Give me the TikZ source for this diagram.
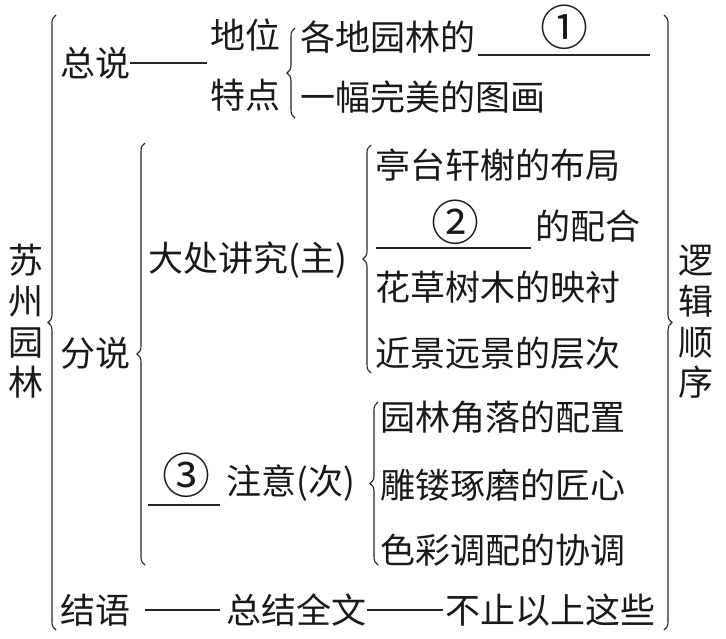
\documentclass[tikz,border=0pt]{standalone}
\usepackage{fontspec}
\newfontfamily\cjk{Noto Sans CJK SC}
\usetikzlibrary{decorations.pathreplacing}
\tikzset{
  txt/.style={inner sep=0pt, anchor=west, text height=30.8pt, text depth=4.2pt, font=\cjk\fontsize{35}{41}\selectfont, text=black!90},
  ctxt/.style={txt, anchor=center},
  circ/.style={inner sep=0pt, anchor=center, text height=42.2pt, text depth=5.8pt, font=\cjk\fontsize{48}{50}\selectfont, text=black!90},
  ln/.style={line width=1.1pt, black!85},
  brc/.style={line width=1.1pt, black!85, decorate, decoration={brace, amplitude=8pt}}
}
\begin{document}
\begin{tikzpicture}[x=1pt,y=-1pt]
\useasboundingbox (0,0) rectangle (726,638);
% vertical titles
\node[ctxt] (s1) at (26,260) {苏};
\node[ctxt] (s2) at (26,301) {州};
\node[ctxt] (s3) at (26,342) {园};
\node[ctxt] (s4) at (26,382) {林};
\node[ctxt] (l1) at (696,260) {逻};
\node[ctxt] (l2) at (696,301) {辑};
\node[ctxt] (l3) at (696,342) {顺};
\node[ctxt] (l4) at (696,382) {序};
% outer braces
\coordinate (ob1) at (56,630); \coordinate (ob2) at (56,15);
\draw[brc] (ob1) -- (ob2);
\coordinate (rb1) at (664,15); \coordinate (rb2) at (664,630);
\draw[brc] (rb1) -- (rb2);
% 总说
\node[txt] (zs) at (60,63) {总说};
\coordinate (zsend) at (207,63);
\draw[ln] (zs.east) -- (zsend);
\node[txt] (dw) at (210,35) {地位};
\node[txt] (td) at (210,95) {特点};
\coordinate (b1a) at (295,118); \coordinate (b1b) at (295,28);
\draw[brc] (b1a) -- (b1b);
\node[txt] (gd) at (300,37) {各地园林的};
\coordinate (u1a) at (478,55); \coordinate (u1b) at (650,55);
\draw[ln] (u1a) -- (u1b);
\node[circ] (n1) at (564,27) {①};
\node[txt] (yf) at (300,97) {一幅完美的图画};
% 分说
\node[txt] (fs) at (60,353) {分说};
\coordinate (b2a) at (145,565); \coordinate (b2b) at (145,143);
\draw[brc] (b2a) -- (b2b);
\node[txt] (dc) at (148,258) {大处讲究(主)};
\coordinate (b3a) at (371,373); \coordinate (b3b) at (371,145);
\draw[brc] (b3a) -- (b3b);
\node[txt] (a1) at (375,165) {亭台轩榭的布局};
\coordinate (u2a) at (376,248); \coordinate (u2b) at (531,248);
\draw[ln] (u2a) -- (u2b);
\node[circ] (n2) at (455,222) {②};
\node[txt] (a2) at (535,226) {的配合};
\node[txt] (a3) at (375,287) {花草树木的映衬};
\node[txt] (a4) at (375,353) {近景远景的层次};
% 注意
\coordinate (u3a) at (148,505); \coordinate (u3b) at (220,505);
\draw[ln] (u3a) -- (u3b);
\node[circ] (n3) at (186,475) {③};
\node[txt] (zy) at (226,481) {注意(次)};
\coordinate (b4a) at (378,565); \coordinate (b4b) at (378,402);
\draw[brc] (b4a) -- (b4b);
\node[txt] (c1) at (380,417) {园林角落的配置};
\node[txt] (c2) at (380,485) {雕镂琢磨的匠心};
\node[txt] (c3) at (380,550) {色彩调配的协调};
% 结语
\node[txt] (jy) at (60,610) {结语};
\node[txt] (zj) at (226,610) {总结全文};
\node[txt] (bz) at (445,610) {不止以上这些};
\draw[ln] ([xshift=15pt]jy.east) -- ([xshift=-6pt]zj.west);
\draw[ln] ([xshift=1pt]zj.east) -- ([xshift=-2pt]bz.west);
\end{tikzpicture}
\end{document}
